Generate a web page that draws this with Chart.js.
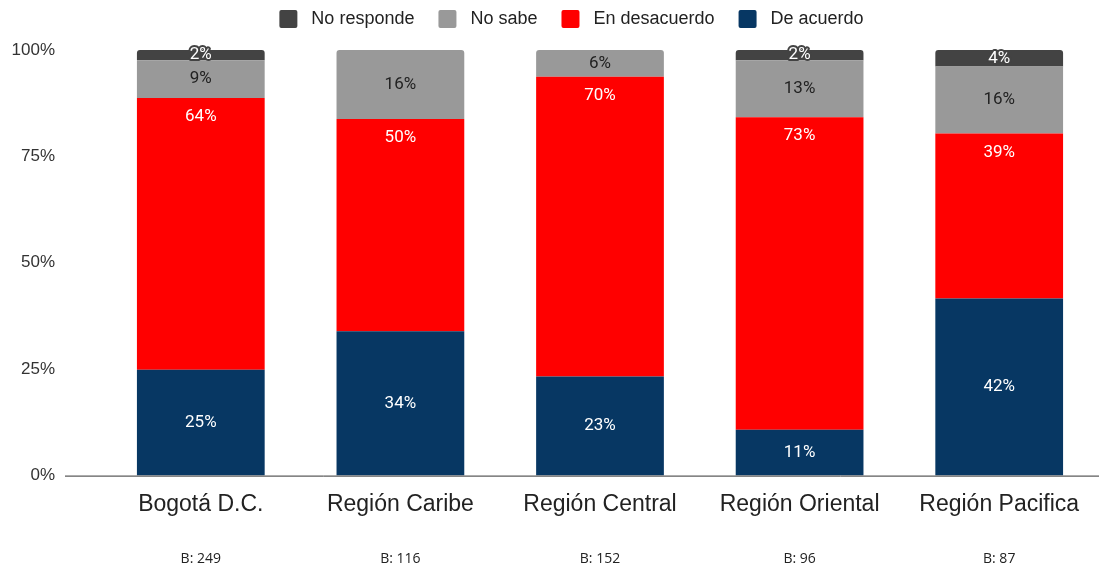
<!DOCTYPE html>
<html>
<head>
<meta charset="utf-8">
<script src="https://cdn.jsdelivr.net/npm/chart.js@4.4.1/dist/chart.umd.min.js"></script>
<style>
  html, body { margin: 0; padding: 0; background: #fff; }
  #wrap { width: 1118px; height: 568px; }
</style>
</head>
<body>
<div id="wrap"><canvas id="chart"></canvas></div>
<script>
// categories and sample sizes
const regions = ["Bogotá D.C.", "Región Caribe", "Región Central", "Región Oriental", "Región Pacifica"];
const baseLabels = ["B: 249", "B: 116", "B: 152", "B: 96", "B: 87"];

// percent values per series
const deAcuerdo = [24.9, 33.9, 23.3, 10.8, 41.6];
const enDesacuerdo = [63.8, 49.9, 70.4, 73.4, 38.8];
const noSabe = [8.9, 16.2, 6.3, 13.4, 15.7];
const noResponde = [2.4, 0, 0, 2.4, 3.9];

const yTicks = [0, 25, 50, 75, 100];

// labels in each segment; red ones sit near the top of their segment
const segmentLabels = {
    id: "segmentLabels",
    afterDatasetsDraw(chart) {
        const ctx = chart.ctx;
        ctx.save();
        ctx.font = "17px Roboto";
        ctx.textAlign = "center";
        ctx.textBaseline = "middle";
        chart.data.datasets.forEach((ds, di) => {
            const meta = chart.getDatasetMeta(di);
            meta.data.forEach((bar, i) => {
                const v = ds.data[i];
                if (!v) return;
                const y = ds.labelTop ? bar.y + 19 : (bar.y + bar.base) / 2;
                const txt = Math.round(v) + "%";
                if (ds.halo) {
                    ctx.lineWidth = 4;
                    ctx.strokeStyle = ds.halo;
                    ctx.lineJoin = "round";
                    ctx.strokeText(txt, bar.x, y);
                }
                ctx.fillStyle = ds.labelColor;
                ctx.fillText(txt, bar.x, y);
            });
        });
        ctx.restore();
    }
};

// zero line, runs out past the first bar like the original
const baseLine = {
    id: "baseLine",
    afterDatasetsDraw(chart) {
        const ctx = chart.ctx;
        const y = chart.scales.y.getPixelForValue(0);
        ctx.save();
        ctx.strokeStyle = "#333";
        ctx.lineWidth = 1;
        ctx.beginPath();
        ctx.moveTo(65, y + 0.5);
        ctx.lineTo(chart.chartArea.right, y + 0.5);
        ctx.stroke();
        ctx.restore();
    }
};

// legend row at the top, reversed order like the original
const topLegend = {
    id: "topLegend",
    afterDraw(chart) {
        const ctx = chart.ctx;
        const items = chart.data.datasets.slice().reverse();
        const box = 18, gap = 14, itemGap = 24, cy = 19;
        ctx.save();
        ctx.font = "18px 'Liberation Sans'";
        ctx.textBaseline = "middle";
        const widths = items.map(d => ctx.measureText(d.label).width);
        const total = widths.reduce((s, w) => s + box + gap + w, 0) + itemGap * (items.length - 1);
        let x = 571.5 - total / 2;
        items.forEach((d, i) => {
            ctx.fillStyle = d.backgroundColor;
            ctx.beginPath();
            ctx.roundRect(x, cy - box / 2, box, box, 2);
            ctx.fill();
            ctx.fillStyle = "#222";
            ctx.fillText(d.label, x + box + gap, cy);
            x += box + gap + widths[i] + itemGap;
        });
        ctx.restore();
    }
};

new Chart(document.getElementById("chart"), {
    type: "bar",
    data: {
        labels: regions,
        datasets: [
            { label: "De acuerdo", data: deAcuerdo, backgroundColor: "#073763", labelColor: "#fff" },
            { label: "En desacuerdo", data: enDesacuerdo, backgroundColor: "#ff0000", labelColor: "#fff", labelTop: true },
            { label: "No sabe", data: noSabe, backgroundColor: "#999999", labelColor: "#222" },
            { label: "No responde", data: noResponde, backgroundColor: "#434343", labelColor: "#fff", halo: "#434343" }
        ]
    },
    options: {
        responsive: true,
        maintainAspectRatio: false,
        animation: false,
        layout: { padding: { top: 50, right: 19, left: 0, bottom: -16 } },
        datasets: {
            bar: { categoryPercentage: 1, barPercentage: 0.64, borderRadius: 3, borderSkipped: "start" }
        },
        plugins: {
            tooltip: { enabled: false },
            legend: { display: false }
        },
        scales: {
            x: {
                stacked: true,
                grid: { display: false, drawTicks: false },
                border: { display: false },
                ticks: { color: "#222", padding: 15, font: { family: "Liberation Sans", size: 23 } }
            },
            x2: {
                type: "category",
                position: "bottom",
                labels: baseLabels,
                grid: { display: false, drawTicks: false },
                border: { display: false },
                ticks: { color: "#222", padding: 17, font: { family: "Open Sans", size: 14 } }
            },
            y: {
                stacked: true,
                min: 0,
                max: 100,
                afterBuildTicks(scale) {
                    scale.ticks = yTicks.map(v => ({ value: v }));
                },
                afterFit(scale) {
                    scale.width = 101;
                    // the big tick padding is only meant to push labels left
                    scale.paddingTop = 0;
                    scale.paddingBottom = 0;
                },
                grid: { display: false, drawTicks: false },
                border: { display: false },
                ticks: {
                    color: "#333",
                    padding: 46,
                    font: { family: "Liberation Sans", size: 17 },
                    callback: v => v + "%"
                }
            }
        }
    },
    plugins: [segmentLabels, baseLine, topLegend]
});
</script>
</body>
</html>
